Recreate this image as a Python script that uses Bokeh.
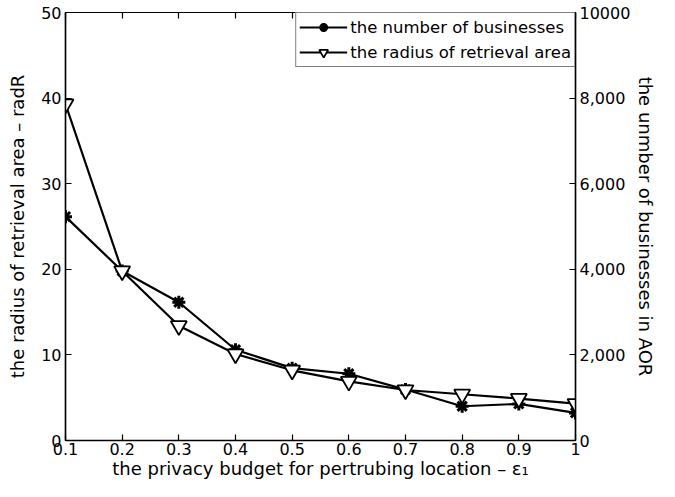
from bokeh.plotting import figure
from bokeh.models import Range1d, LinearAxis, FixedTicker, Legend, LegendItem
from bokeh.embed import file_html
from bokeh.resources import INLINE

eps = [0.1, 0.2, 0.3, 0.4, 0.5, 0.6, 0.7, 0.8, 0.9, 1.0]
radius = [39.3, 19.8, 13.4, 10.1, 8.2, 6.9, 5.9, 5.4, 4.9, 4.3]
businesses = [5230, 3960, 3230, 2120, 1690, 1560, 1190, 800, 855, 645]

x_ticks = [0.1, 0.2, 0.3, 0.4, 0.5, 0.6, 0.7, 0.8, 0.9, 1.0]
x_tick_labels = ["0.1", "0.2", "0.3", "0.4", "0.5", "0.6", "0.7", "0.8", "0.9", "1"]
left_ticks = [0, 10, 20, 30, 40, 50]
right_ticks = [0, 2000, 4000, 6000, 8000, 10000]
right_tick_labels = ["0", "2,000", "4,000", "6,000", "8,000", "10000"]

FONT = "DejaVu Sans"

p = figure(width=659, height=481, output_backend="svg", toolbar_location=None,
           x_range=Range1d(0.1, 1.0), y_range=Range1d(0, 50),
           min_border_left=65, min_border_right=60, min_border_top=12, min_border_bottom=40)
p.extra_y_ranges = {"right": Range1d(0, 10000)}
p.grid.visible = False
p.outline_line_color = "black"
p.outline_line_width = 1.2
p.background_fill_color = "white"
p.border_fill_color = "white"

def style_axis(ax):
    ax.axis_line_color = "black"
    ax.axis_line_width = 1.5
    ax.major_tick_line_color = "black"
    ax.major_tick_line_width = 1.2
    ax.major_tick_in = 6
    ax.major_tick_out = 0
    ax.minor_tick_line_color = None
    ax.major_label_text_font = FONT
    ax.major_label_text_font_size = "16px"
    ax.major_label_text_color = "black"
    ax.axis_label_text_font = FONT
    ax.axis_label_text_font_size = "18px"
    ax.axis_label_text_font_style = "normal"
    ax.axis_label_text_color = "black"

xa = p.xaxis[0]
xa.ticker = FixedTicker(ticks=x_ticks)
xa.major_label_overrides = {t: l for t, l in zip(x_ticks, x_tick_labels)}
xa.axis_label = "the privacy budget for pertrubing location \u2013 \u03b5\u2081"
style_axis(xa)
xa.major_label_standoff = 2
xa.axis_label_standoff = 0

ya = p.yaxis[0]
ya.ticker = FixedTicker(ticks=left_ticks)
ya.axis_label = "the radius of retrieval area \u2013 radR"
style_axis(ya)
ya.major_label_standoff = 4
ya.axis_label_standoff = 10

top = LinearAxis(ticker=FixedTicker(ticks=x_ticks))
style_axis(top)
top.major_label_text_color = None
top.major_label_standoff = 0
top.axis_line_width = 1.2
p.add_layout(top, "above")

ra = LinearAxis(y_range_name="right", ticker=FixedTicker(ticks=right_ticks),
                axis_label="the unmber of businesses in AOR")
ra.major_label_overrides = {t: l for t, l in zip(right_ticks, right_tick_labels)}
style_axis(ra)
ra.major_label_standoff = 4
ra.axis_label_standoff = 2
p.add_layout(ra, "right")

l1 = p.line(eps, businesses, y_range_name="right", line_color="black", line_width=2.2)
m1 = p.scatter(eps, businesses, y_range_name="right", marker="asterisk", size=13,
               line_color="black", line_width=3)
l2 = p.line(eps, radius, line_color="black", line_width=2.2)
m2 = p.scatter(eps, radius, marker="inverted_triangle", size=16,
               line_color="black", fill_color="white", line_width=1.8)

legend = Legend(items=[LegendItem(label="the number of businesses", renderers=[l1, m1]),
                       LegendItem(label="the radius of retrieval area", renderers=[l2, m2])],
                location="top_right", margin=0, padding=3, spacing=3,
                label_text_font=FONT, label_text_font_size="16.5px", label_text_color="black",
                border_line_color="black", border_line_width=1.2,
                glyph_width=48, glyph_height=22, label_standoff=3,
                background_fill_alpha=1.0)
p.add_layout(legend, "center")

open("out.html", "w").write(file_html(p, INLINE))
